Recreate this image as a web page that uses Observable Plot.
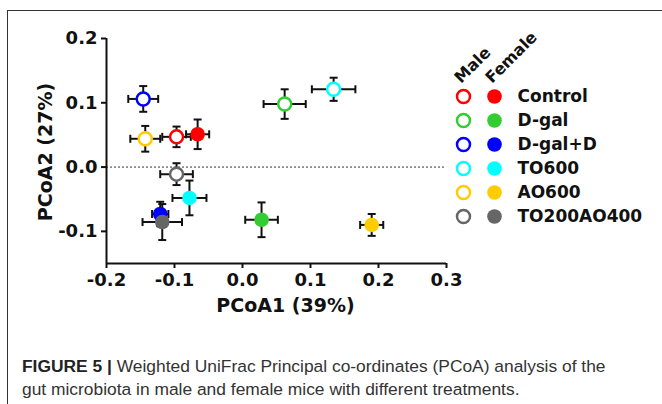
<!DOCTYPE html>
<html>
<head>
<meta charset="utf-8">
<script src="https://cdn.jsdelivr.net/npm/d3@7"></script>
<script src="https://cdn.jsdelivr.net/npm/@observablehq/plot@0.6"></script>
<style>
  html, body { margin: 0; padding: 0; background: #fff; overflow: hidden; }
  #wrap { position: relative; width: 662px; height: 404px; overflow: hidden; }
  #frame { position: absolute; left: 7px; top: 10px; width: 700px; height: 420px;
           border-left: 1.5px solid #333; border-top: 1.5px solid #333; }
  #main { position: absolute; left: 0; top: 0; }
  #legend { position: absolute; left: 440px; top: 20px; }
  #caption { position: absolute; left: 22px; top: 355px; width: 640px; white-space: nowrap;
             font-family: "Liberation Sans", Arial, sans-serif; font-size: 17.4px;
             line-height: 22.5px; color: #333; }
  #caption b { color: #222; }
</style>
</head>
<body>
<div id="wrap">
  <div id="frame"></div>
  <div id="main"></div>
  <div id="legend"></div>
  <div id="caption"><b>FIGURE 5 |</b> Weighted UniFrac Principal co-ordinates (PCoA) analysis of the<br>gut microbiota in male and female mice with different treatments.</div>
</div>
<script>
const groups = ["Control", "D-gal", "D-gal+D", "TO600", "AO600", "TO200AO400"];
const colors = ["#ff0000", "#33cc33", "#0000ff", "#00ffff", "#ffcc00", "#666666"];
const sexes = ["Male", "Female"];

const maleX    = [-0.097,  0.062, -0.146,  0.134, -0.143, -0.097];
const maleY    = [ 0.047,  0.098,  0.106,  0.121,  0.044, -0.011];
const maleXErr = [ 0.021,  0.031,  0.022,  0.032,  0.022,  0.024];
const maleYErr = [ 0.016,  0.023,  0.020,  0.018,  0.020,  0.017];

const femaleX    = [-0.066,  0.028, -0.121, -0.078,  0.190, -0.118];
const femaleY    = [ 0.051, -0.082, -0.073, -0.048, -0.090, -0.0855];
const femaleXErr = [ 0.017,  0.024,  0.012,  0.025,  0.017,  0.029];
const femaleYErr = [ 0.023,  0.027,  0.019,  0.027,  0.017,  0.028];

const xTicks = [-0.2, -0.1, 0.0, 0.1, 0.2, 0.3];
const yTicks = [-0.1, 0.0, 0.1, 0.2];
const xDomain = [-0.2, 0.3];
const yDomain = [-0.15, 0.2];

const males = groups.map((g, i) => ({group: g, sex: "Male", x: maleX[i], y: maleY[i], ex: maleXErr[i], ey: maleYErr[i]}));
const females = groups.map((g, i) => ({group: g, sex: "Female", x: femaleX[i], y: femaleY[i], ex: femaleXErr[i], ey: femaleYErr[i]}));
const points = [...males, ...females];

const vBar = {draw(ctx, size) { const h = Math.sqrt(size / Math.PI); ctx.moveTo(0, -h); ctx.lineTo(0, h); }};
const hBar = {draw(ctx, size) { const h = Math.sqrt(size / Math.PI); ctx.moveTo(-h, 0); ctx.lineTo(h, 0); }};
const fmt = d => d.toFixed(1);
const ink = "#111";

const main = Plot.plot({
  width: 662, height: 330,
  marginLeft: 106, marginRight: 216, marginTop: 38, marginBottom: 67,
  x: {domain: xDomain},
  y: {domain: yDomain},
  color: {domain: groups, range: colors},
  style: {fontFamily: "DejaVu Sans", color: ink, background: "transparent", overflow: "visible"},
  marks: [
    Plot.ruleY([0], {stroke: "#333", strokeWidth: 1, strokeDasharray: "2,2"}),
    Plot.axisX(xTicks, {tickFormat: fmt, tickSize: 5, tickPadding: 5, fontSize: 18, fontWeight: "bold", strokeWidth: 2, label: null}),
    Plot.axisY(yTicks, {tickFormat: fmt, tickSize: 5, tickPadding: 4, fontSize: 18, fontWeight: "bold", strokeWidth: 2, label: null}),
    Plot.ruleX([xDomain[0]], {stroke: ink, strokeWidth: 2}),
    Plot.ruleY([yDomain[0]], {stroke: ink, strokeWidth: 2}),
    Plot.text(["PCoA1 (39%)"], {frameAnchor: "bottom", lineAnchor: "middle", textAnchor: "middle", dy: 42, dx: 9, fontSize: 19, fontWeight: "bold", fill: ink}),
    Plot.text(["PCoA2 (27%)"], {frameAnchor: "left", textAnchor: "middle", lineAnchor: "middle", dx: -61, dy: 1, rotate: -90, fontSize: 19, fontWeight: "bold", fill: ink}),
    // error bars
    Plot.link(points, {x1: d => d.x - d.ex, x2: d => d.x + d.ex, y1: "y", y2: "y", stroke: ink, strokeWidth: 2}),
    Plot.link(points, {x1: "x", x2: "x", y1: d => d.y - d.ey, y2: d => d.y + d.ey, stroke: ink, strokeWidth: 2}),
    Plot.dot(points, {x: d => d.x - d.ex, y: "y", symbol: vBar, r: 4, stroke: ink, strokeWidth: 2}),
    Plot.dot(points, {x: d => d.x + d.ex, y: "y", symbol: vBar, r: 4, stroke: ink, strokeWidth: 2}),
    Plot.dot(points, {x: "x", y: d => d.y - d.ey, symbol: hBar, r: 4, stroke: ink, strokeWidth: 2}),
    Plot.dot(points, {x: "x", y: d => d.y + d.ey, symbol: hBar, r: 4, stroke: ink, strokeWidth: 2}),
    // points
    Plot.dot(males, {x: "x", y: "y", stroke: "group", fill: "white", r: 6.5, strokeWidth: 2.5}),
    Plot.dot(females, {x: "x", y: "y", fill: "group", r: 7.3})
  ]
});
document.getElementById("main").append(main);

const legend = Plot.plot({
  width: 222, height: 215, margin: 0,
  x: {type: "point", domain: sexes, range: [23, 54], padding: 0, axis: null},
  y: {type: "point", domain: groups, range: [75, 196], padding: 0, axis: null},
  color: {domain: groups, range: colors},
  style: {fontFamily: "DejaVu Sans", color: ink, background: "transparent", overflow: "visible"},
  marks: [
    Plot.dot(groups, {x: () => "Male", y: d => d, stroke: d => d, fill: "white", r: 6.5, strokeWidth: 2.5}),
    Plot.dot(groups, {x: () => "Female", y: d => d, fill: d => d, r: 7.3}),
    Plot.text(groups, {x: () => "Female", y: d => d, text: d => d, dx: 23, textAnchor: "start", fontSize: 17, fontWeight: "bold", fill: ink}),
    Plot.text(sexes, {x: d => d, y: () => groups[0], text: d => d, dx: -6, dy: -16, rotate: -45, textAnchor: "start", fontSize: 16, fontWeight: "bold", fill: ink})
  ]
});
document.getElementById("legend").append(legend);
</script>
</body>
</html>
